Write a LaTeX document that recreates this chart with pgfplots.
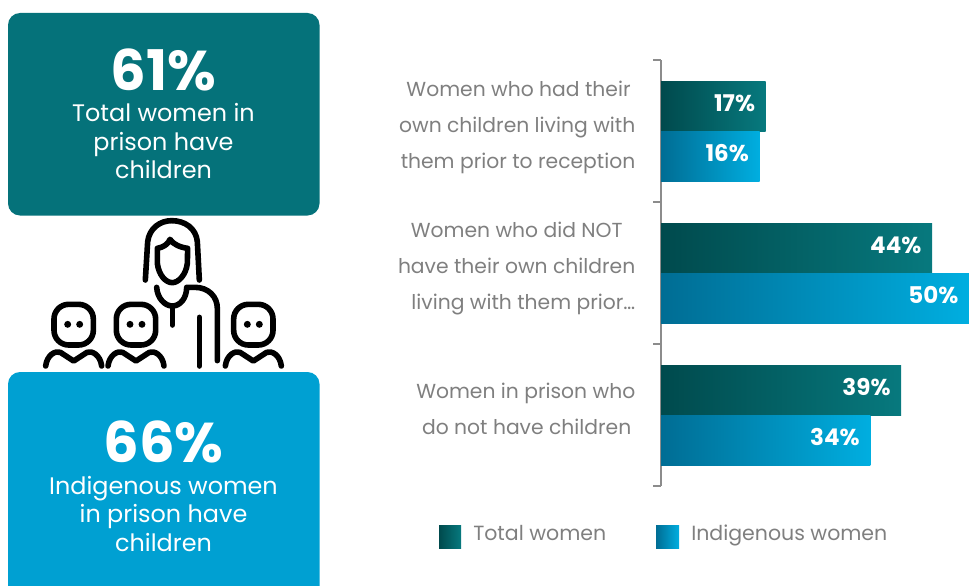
\documentclass[border=0pt]{standalone}
\usepackage{pgfplots}
\pgfplotsset{compat=1.18}
\usepackage{fontspec}
\setmainfont{Poppins}
\definecolor{panelTeal}{HTML}{05727A}
\definecolor{panelBlue}{HTML}{00A0D2}
\definecolor{tealDark}{HTML}{004A4D}
\definecolor{tealLight}{HTML}{07797E}
\definecolor{blueDark}{HTML}{006D94}
\definecolor{blueLight}{HTML}{00AEE0}
\definecolor{labelGray}{HTML}{7F7F7F}
\definecolor{axisGray}{HTML}{8C8C8C}
\newcommand{\fs}[1]{\fontsize{\fpeval{#1*0.75}pt}{27pt}\selectfont}
% one seated child of the icon, drawn around its head centre
\newcommand{\child}[1]{%
  \begin{scope}[shift={(#1,373)}]
    \draw[rounded corners=11pt] (-59,-60) rectangle (59,62);
    \fill (-18,0) circle (2.6pt) (18,0) circle (2.6pt);
    \draw (-84,125) .. controls (-80,92) and (-55,78) .. (-40,84)
          -- (0,110) -- (40,84) .. controls (55,78) and (80,92) .. (84,125);
  \end{scope}}
\pgfplotsset{
  totalbar/.style={draw=none,left color=tealDark,right color=tealLight,bar shift={25*0.75pt}},
  indigbar/.style={draw=none,left color=blueDark,right color=blueLight,bar shift={-25*0.75pt}},
}
\begin{document}
\begin{tikzpicture}
\clip (0,0) rectangle ({969*0.75pt},{-585*0.75pt});
\begin{scope}[x=0.75pt,y=-0.75pt]
  \fill[panelTeal,rounded corners=9pt] (8,13) rectangle (319.5,215.5);
  \fill[panelBlue,rounded corners=9pt] (8,372) rectangle (319.5,610);
  \begin{scope}[every node/.style={text=white,anchor=base}]
    \node at (163.5,90) {\fs{56}\bfseries 61\%};
    \node at (163.5,121) {\fs{23.9}Total women in};
    \node at (163.5,150) {\fs{23.9}prison have};
    \node at (163.5,178) {\fs{23.9}children};
    \node at (163.5,462) {\fs{56}\bfseries 66\%};
    \node at (163.5,494) {\fs{23.9}Indigenous women};
    \node at (163.5,522) {\fs{23.9}in prison have};
    \node at (163.5,551) {\fs{23.9}children};
  \end{scope}
  % colour key under the bars
  \shade[left color=tealDark,right color=tealLight] (439,525) rectangle (461,548);
  \shade[left color=blueDark,right color=blueLight] (656,525) rectangle (679,548);
  \node[anchor=base west,inner sep=0pt,text=labelGray] at (473,540) {\fs{20.5}Total women};
  \node[anchor=base west,inner sep=0pt,text=labelGray] at (691,540) {\fs{20.5}Indigenous women};
\end{scope}
% mother and children icon, laid out on a grid three times finer
\begin{scope}[x=0.25pt,y=-0.25pt,yshift={-200*0.75pt},line width=4.2pt,line cap=round,line join=round,black]
  \draw (436,240) -- (443,125) .. controls (448,85) and (480,62) .. (515,62)
        .. controls (555,62) and (588,85) .. (592,125) -- (598,240);
  \draw (472,145) .. controls (490,142) and (505,132) .. (510,118)
        .. controls (518,132) and (540,142) .. (563,145)
        -- (562,190) .. controls (558,225) and (535,248) .. (517,248)
        .. controls (497,248) and (476,225) .. (472,190) -- cycle;
  \draw (470,262) .. controls (472,295) and (495,318) .. (517,318)
        .. controls (540,318) and (560,295) .. (560,262) -- (585,262)
        .. controls (625,262) and (652,290) .. (652,325) -- (652,482);
  \draw (517,318) -- (517,375);
  \draw (598,352) -- (598,498);
  \child{221}\child{408}\child{760}
\end{scope}
\begin{axis}[
  at={({661*0.75pt},{-60*0.75pt})}, anchor=north west,
  scale only axis, width={308*0.75pt}, height={426*0.75pt},
  xmin=0, xmax=50, ymin=-0.5, ymax=2.5, y dir=reverse,
  axis x line=none, axis y line=left,
  axis line style={axisGray,-,line width=0.8pt},
  xbar, bar width={50*0.75pt},
  ytick={0,1,2},
  yticklabels={
    {Women who had their\hspace*{3.5pt}\\own children living with\\them prior to reception},
    {Women who did NOT\hspace*{9.5pt}\\have their own children\\living with them prior…},
    {Women in prison who\\do not have children\hspace*{3pt}\rule[-3pt]{0pt}{0pt}}},
  minor ytick={-0.5,0.5,1.5,2.5},
  major tick length=0pt, minor tick length={8*0.75pt},
  tick align=outside, minor tick style={axisGray,line width=0.8pt},
  yticklabel style={align=right,text=labelGray,font=\fs{20.3},xshift={-21*0.75pt},yshift={4*0.75pt}},
  nodes near coords={\pgfmathprintnumber[assume math mode=true]{\pgfplotspointmeta}\%},
  point meta=x,
  every node near coord/.append style={anchor=east,text=white,font=\fs{23}\bfseries,xshift={-6*0.75pt},yshift={2.5*0.75pt}},
]
% each bar is its own plot so that it carries a full gradient of its own
\addplot[totalbar] coordinates {(17,0)};
\addplot[totalbar] coordinates {(44,1)};
\addplot[totalbar] coordinates {(39,2)};
\addplot[indigbar] coordinates {(16,0)};
\addplot[indigbar] coordinates {(50,1)};
\addplot[indigbar] coordinates {(34,2)};
\end{axis}
\end{tikzpicture}
\end{document}
